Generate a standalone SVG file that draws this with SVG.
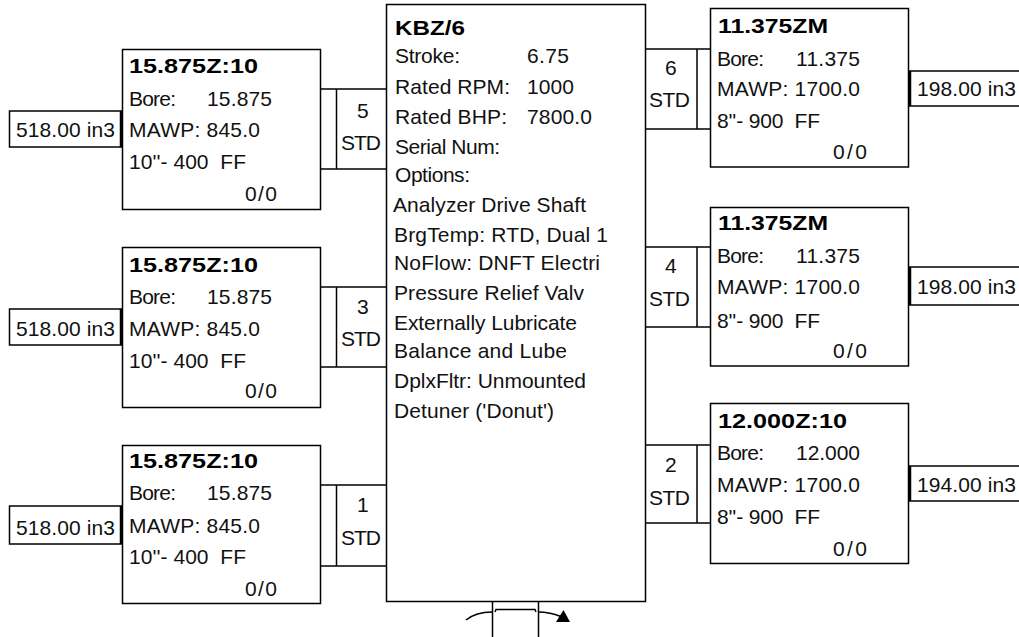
<svg xmlns="http://www.w3.org/2000/svg" width="1019" height="637" viewBox="0 0 1019 637">
<style>
.b{fill:#fff;stroke:#000;stroke-width:1.5}
.l{fill:none;stroke:#000;stroke-width:1.5}
.e{fill:none;stroke:#000;stroke-width:2.5}
text{font-family:"Liberation Sans",Arial,sans-serif;font-size:21px;fill:#111;white-space:pre}
.t{font-weight:bold;fill:#000}
</style>
<g id="connectors">
<path class="l" d="M320 89H386M320 169H386M336.500 89V169"/>
<path class="l" d="M320 287H386M320 367H386M336.500 287V367"/>
<path class="l" d="M320 485H386M320 566H386M336.500 485V566"/>
<path class="l" d="M645 49H710M645 129H710M697 49V129"/>
<path class="l" d="M645 247H710M645 327H710M697 247V327"/>
<path class="l" d="M645 445H710M645 523H710M697 445V523"/>
<path class="l" d="M492.500 601V637M538.500 601V637M495 612L496 609.500H535L536 612"/>
<path class="l" d="M466 620Q476 612 492 612M538 612Q550 612 562 617"/>
<path d="M556 622L570 622L563.500 610Z" fill="#000"/>
</g>
<g id="main"><rect class="b" x="386.500" y="4.500" width="259" height="597"/>
<text class="t" x="395" y="35" textLength="70" lengthAdjust="spacingAndGlyphs">KBZ/6</text>
<text x="395" y="63" textLength="65">Stroke:</text><text x="527" y="63" textLength="42">6.75</text>
<text x="395" y="94" textLength="115">Rated RPM:</text><text x="527" y="94" textLength="47">1000</text>
<text x="395" y="124" textLength="112">Rated BHP:</text><text x="527" y="124" textLength="65">7800.0</text>
<text x="395" y="154" textLength="105">Serial Num:</text>
<text x="395" y="182" textLength="75">Options:</text>
<text x="393" y="212" textLength="193">Analyzer Drive Shaft</text>
<text x="394" y="242" textLength="214">BrgTemp: RTD, Dual 1</text>
<text x="394" y="270" textLength="206">NoFlow: DNFT Electri</text>
<text x="394" y="300" textLength="190">Pressure Relief Valv</text>
<text x="394" y="330" textLength="183">Externally Lubricate</text>
<text x="394" y="358" textLength="173">Balance and Lube</text>
<text x="394" y="388" textLength="192">DplxFltr: Unmounted</text>
<text x="394" y="418" textLength="160">Detuner ('Donut')</text>
</g>
<g id="cyl5"><rect class="b" x="122.500" y="49.500" width="198" height="160"/><rect class="b" x="9.500" y="111" width="112" height="36"/><path class="e" d="M121 111V147"/>
<text class="t" x="129" y="73" textLength="129" lengthAdjust="spacingAndGlyphs">15.875Z:10</text><text x="129" y="106" textLength="47">Bore:</text><text x="207" y="106" textLength="65">15.875</text><text x="129" y="137" textLength="131">MAWP: 845.0</text><text x="129" y="169" textLength="117">10''- 400  FF</text><text x="245" y="201" textLength="32">0/0</text>
<text x="16" y="137" textLength="99">518.00 in3</text><text x="357" y="118">5</text><text x="341" y="150" textLength="40">STD</text></g>
<g id="cyl3"><rect class="b" x="122.500" y="247.500" width="198" height="160"/><rect class="b" x="9.500" y="309" width="112" height="36"/><path class="e" d="M121 309V345"/>
<text class="t" x="129" y="272" textLength="129" lengthAdjust="spacingAndGlyphs">15.875Z:10</text><text x="129" y="304" textLength="47">Bore:</text><text x="207" y="304" textLength="65">15.875</text><text x="129" y="336" textLength="131">MAWP: 845.0</text><text x="129" y="368" textLength="117">10''- 400  FF</text><text x="245" y="398" textLength="32">0/0</text>
<text x="16" y="336" textLength="99">518.00 in3</text><text x="357" y="314">3</text><text x="341" y="346" textLength="40">STD</text></g>
<g id="cyl1"><rect class="b" x="122.500" y="445.500" width="198" height="158"/><rect class="b" x="9.500" y="506" width="112" height="38"/><path class="e" d="M121 506V544"/>
<text class="t" x="129" y="468" textLength="129" lengthAdjust="spacingAndGlyphs">15.875Z:10</text><text x="129" y="500" textLength="47">Bore:</text><text x="207" y="500" textLength="65">15.875</text><text x="129" y="533" textLength="131">MAWP: 845.0</text><text x="129" y="564" textLength="117">10''- 400  FF</text><text x="245" y="596" textLength="32">0/0</text>
<text x="16" y="535" textLength="99">518.00 in3</text><text x="357" y="512">1</text><text x="341" y="545" textLength="40">STD</text></g>
<g id="cyl6"><rect class="b" x="710.500" y="8.500" width="198" height="158.500"/><rect class="b" x="909.500" y="71" width="112" height="35"/><path class="e" d="M910 71V106"/>
<text class="t" x="718" y="33" textLength="110" lengthAdjust="spacingAndGlyphs">11.375ZM</text><text x="717" y="66" textLength="47">Bore:</text><text x="796" y="66" textLength="64">11.375</text><text x="717" y="96" textLength="143">MAWP: 1700.0</text><text x="717" y="128" textLength="103">8''- 900  FF</text><text x="833" y="159" textLength="34">0/0</text>
<text x="917" y="96" textLength="99">198.00 in3</text><text x="665" y="75">6</text><text x="649" y="107" textLength="41">STD</text></g>
<g id="cyl4"><rect class="b" x="710.500" y="207.500" width="198" height="158.500"/><rect class="b" x="909.500" y="267" width="112" height="38"/><path class="e" d="M910 267V305"/>
<text class="t" x="718" y="230" textLength="110" lengthAdjust="spacingAndGlyphs">11.375ZM</text><text x="717" y="263" textLength="47">Bore:</text><text x="796" y="263" textLength="64">11.375</text><text x="717" y="294" textLength="143">MAWP: 1700.0</text><text x="717" y="328" textLength="103">8''- 900  FF</text><text x="833" y="358" textLength="34">0/0</text>
<text x="917" y="294" textLength="99">198.00 in3</text><text x="665" y="273">4</text><text x="649" y="306" textLength="41">STD</text></g>
<g id="cyl2"><rect class="b" x="710.500" y="403.500" width="198" height="160"/><rect class="b" x="909.500" y="466" width="112" height="35"/><path class="e" d="M910 466V501"/>
<text class="t" x="718" y="428" textLength="129" lengthAdjust="spacingAndGlyphs">12.000Z:10</text><text x="717" y="460" textLength="47">Bore:</text><text x="796" y="460" textLength="64">12.000</text><text x="717" y="492" textLength="143">MAWP: 1700.0</text><text x="717" y="524" textLength="103">8''- 900  FF</text><text x="833" y="556" textLength="34">0/0</text>
<text x="917" y="492" textLength="99">194.00 in3</text><text x="665" y="472">2</text><text x="649" y="505" textLength="41">STD</text></g>
</svg>
